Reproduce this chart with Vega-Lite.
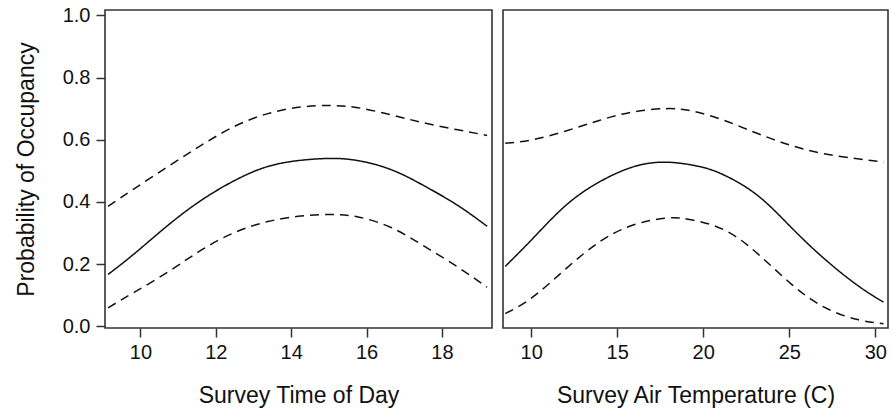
{
  "$schema": "https://vega.github.io/schema/vega-lite/v6.json",
  "padding": {"left": 14, "top": 4, "right": 4, "bottom": 4},
  "background": "white",
  "config": {
    "font": "Liberation Sans",
    "view": {"stroke": "#333333", "strokeWidth": 1.6},
    "axis": {
      "domain": false,
      "grid": false,
      "ticks": true,
      "tickColor": "#333333",
      "tickWidth": 1.5,
      "tickSize": 9,
      "labelFont": "Liberation Sans",
      "labelFontSize": 20,
      "labelColor": "#111111",
      "labelPadding": 5,
      "titleFont": "Liberation Sans",
      "titleFontSize": 23,
      "titleFontWeight": "normal",
      "titleColor": "#111111"
    }
  },
  "data": {
    "values": [
      {"panel": "time", "series": "fit", "x": 9.14, "y": 0.167},
      {"panel": "time", "series": "fit", "x": 9.84, "y": 0.234},
      {"panel": "time", "series": "fit", "x": 10.73, "y": 0.325},
      {"panel": "time", "series": "fit", "x": 11.61, "y": 0.405},
      {"panel": "time", "series": "fit", "x": 12.5, "y": 0.469},
      {"panel": "time", "series": "fit", "x": 13.38, "y": 0.514},
      {"panel": "time", "series": "fit", "x": 14.26, "y": 0.534},
      {"panel": "time", "series": "fit", "x": 15.06, "y": 0.54},
      {"panel": "time", "series": "fit", "x": 15.77, "y": 0.533},
      {"panel": "time", "series": "fit", "x": 16.65, "y": 0.504},
      {"panel": "time", "series": "fit", "x": 17.53, "y": 0.452},
      {"panel": "time", "series": "fit", "x": 18.42, "y": 0.389},
      {"panel": "time", "series": "fit", "x": 19.2, "y": 0.322},
      {"panel": "time", "series": "upper", "x": 9.14, "y": 0.386},
      {"panel": "time", "series": "upper", "x": 9.84, "y": 0.443},
      {"panel": "time", "series": "upper", "x": 10.73, "y": 0.514},
      {"panel": "time", "series": "upper", "x": 11.61, "y": 0.582},
      {"panel": "time", "series": "upper", "x": 12.5, "y": 0.643},
      {"panel": "time", "series": "upper", "x": 13.38, "y": 0.684},
      {"panel": "time", "series": "upper", "x": 14.26, "y": 0.705},
      {"panel": "time", "series": "upper", "x": 15.06, "y": 0.71},
      {"panel": "time", "series": "upper", "x": 15.77, "y": 0.703},
      {"panel": "time", "series": "upper", "x": 16.65, "y": 0.68},
      {"panel": "time", "series": "upper", "x": 17.53, "y": 0.654},
      {"panel": "time", "series": "upper", "x": 18.42, "y": 0.632},
      {"panel": "time", "series": "upper", "x": 19.2, "y": 0.614},
      {"panel": "time", "series": "lower", "x": 9.14, "y": 0.06},
      {"panel": "time", "series": "lower", "x": 9.84, "y": 0.11},
      {"panel": "time", "series": "lower", "x": 10.73, "y": 0.175},
      {"panel": "time", "series": "lower", "x": 11.61, "y": 0.245},
      {"panel": "time", "series": "lower", "x": 12.5, "y": 0.302},
      {"panel": "time", "series": "lower", "x": 13.38, "y": 0.337},
      {"panel": "time", "series": "lower", "x": 14.26, "y": 0.355},
      {"panel": "time", "series": "lower", "x": 15.06, "y": 0.36},
      {"panel": "time", "series": "lower", "x": 15.77, "y": 0.352},
      {"panel": "time", "series": "lower", "x": 16.65, "y": 0.318},
      {"panel": "time", "series": "lower", "x": 17.53, "y": 0.258},
      {"panel": "time", "series": "lower", "x": 18.42, "y": 0.191},
      {"panel": "time", "series": "lower", "x": 19.2, "y": 0.126},
      {"panel": "temp", "series": "fit", "x": 8.49, "y": 0.193},
      {"panel": "temp", "series": "fit", "x": 10.08, "y": 0.282},
      {"panel": "temp", "series": "fit", "x": 12.01, "y": 0.389},
      {"panel": "temp", "series": "fit", "x": 13.95, "y": 0.464},
      {"panel": "temp", "series": "fit", "x": 15.88, "y": 0.512},
      {"panel": "temp", "series": "fit", "x": 17.82, "y": 0.528},
      {"panel": "temp", "series": "fit", "x": 19.76, "y": 0.514},
      {"panel": "temp", "series": "fit", "x": 21.23, "y": 0.486},
      {"panel": "temp", "series": "fit", "x": 23.16, "y": 0.421},
      {"panel": "temp", "series": "fit", "x": 25.1, "y": 0.319},
      {"panel": "temp", "series": "fit", "x": 27.03, "y": 0.218},
      {"panel": "temp", "series": "fit", "x": 28.97, "y": 0.132},
      {"panel": "temp", "series": "fit", "x": 30.48, "y": 0.078},
      {"panel": "temp", "series": "upper", "x": 8.49, "y": 0.589},
      {"panel": "temp", "series": "upper", "x": 10.08, "y": 0.6},
      {"panel": "temp", "series": "upper", "x": 12.01, "y": 0.628},
      {"panel": "temp", "series": "upper", "x": 13.95, "y": 0.662},
      {"panel": "temp", "series": "upper", "x": 15.88, "y": 0.689},
      {"panel": "temp", "series": "upper", "x": 17.82, "y": 0.7},
      {"panel": "temp", "series": "upper", "x": 19.37, "y": 0.692},
      {"panel": "temp", "series": "upper", "x": 21.23, "y": 0.662},
      {"panel": "temp", "series": "upper", "x": 23.16, "y": 0.62},
      {"panel": "temp", "series": "upper", "x": 25.1, "y": 0.582},
      {"panel": "temp", "series": "upper", "x": 27.03, "y": 0.555},
      {"panel": "temp", "series": "upper", "x": 28.97, "y": 0.539},
      {"panel": "temp", "series": "upper", "x": 30.48, "y": 0.528},
      {"panel": "temp", "series": "lower", "x": 8.49, "y": 0.041},
      {"panel": "temp", "series": "lower", "x": 10.08, "y": 0.094},
      {"panel": "temp", "series": "lower", "x": 12.01, "y": 0.185},
      {"panel": "temp", "series": "lower", "x": 13.95, "y": 0.271},
      {"panel": "temp", "series": "lower", "x": 15.88, "y": 0.325},
      {"panel": "temp", "series": "lower", "x": 17.82, "y": 0.348},
      {"panel": "temp", "series": "lower", "x": 19.29, "y": 0.343},
      {"panel": "temp", "series": "lower", "x": 21.23, "y": 0.31},
      {"panel": "temp", "series": "lower", "x": 23.16, "y": 0.234},
      {"panel": "temp", "series": "lower", "x": 25.1, "y": 0.137},
      {"panel": "temp", "series": "lower", "x": 27.03, "y": 0.062},
      {"panel": "temp", "series": "lower", "x": 28.97, "y": 0.022},
      {"panel": "temp", "series": "lower", "x": 30.48, "y": 0.009}
    ]
  },
  "spacing": 9,
  "hconcat": [
    {
      "width": 387,
      "height": 318,
      "transform": [{"filter": "datum.panel === 'time'"}],
      "mark": {"type": "line", "interpolate": "natural", "color": "#111111", "strokeWidth": 1.5, "clip": true},
      "encoding": {
        "x": {
          "field": "x", "type": "quantitative",
          "scale": {"domain": [9.06, 19.33], "nice": false, "zero": false},
          "axis": {"values": [10, 12, 14, 16, 18], "title": "Survey Time of Day", "titlePadding": 22}
        },
        "y": {
          "field": "y", "type": "quantitative",
          "scale": {"domain": [-0.005, 1.017], "nice": false, "zero": false},
          "axis": {"values": [0, 0.2, 0.4, 0.6, 0.8, 1.0], "format": ".1f", "title": "Probability of Occupancy", "labelPadding": 6, "titlePadding": 24}
        },
        "strokeDash": {
          "field": "series", "type": "nominal",
          "scale": {"domain": ["fit", "lower", "upper"], "range": [[1, 0], [9, 6], [9, 6]]},
          "legend": null
        },
        "detail": {"field": "series"}
      }
    },
    {
      "width": 385,
      "height": 318,
      "transform": [{"filter": "datum.panel === 'temp'"}],
      "mark": {"type": "line", "interpolate": "natural", "color": "#111111", "strokeWidth": 1.5, "clip": true},
      "encoding": {
        "x": {
          "field": "x", "type": "quantitative",
          "scale": {"domain": [8.36, 30.74], "nice": false, "zero": false},
          "axis": {"values": [10, 15, 20, 25, 30], "title": "Survey Air Temperature (C)", "titlePadding": 22}
        },
        "y": {
          "field": "y", "type": "quantitative",
          "scale": {"domain": [-0.005, 1.017], "nice": false, "zero": false},
          "axis": null
        },
        "strokeDash": {
          "field": "series", "type": "nominal",
          "scale": {"domain": ["fit", "lower", "upper"], "range": [[1, 0], [9, 6], [9, 6]]},
          "legend": null
        },
        "detail": {"field": "series"}
      }
    }
  ]
}
